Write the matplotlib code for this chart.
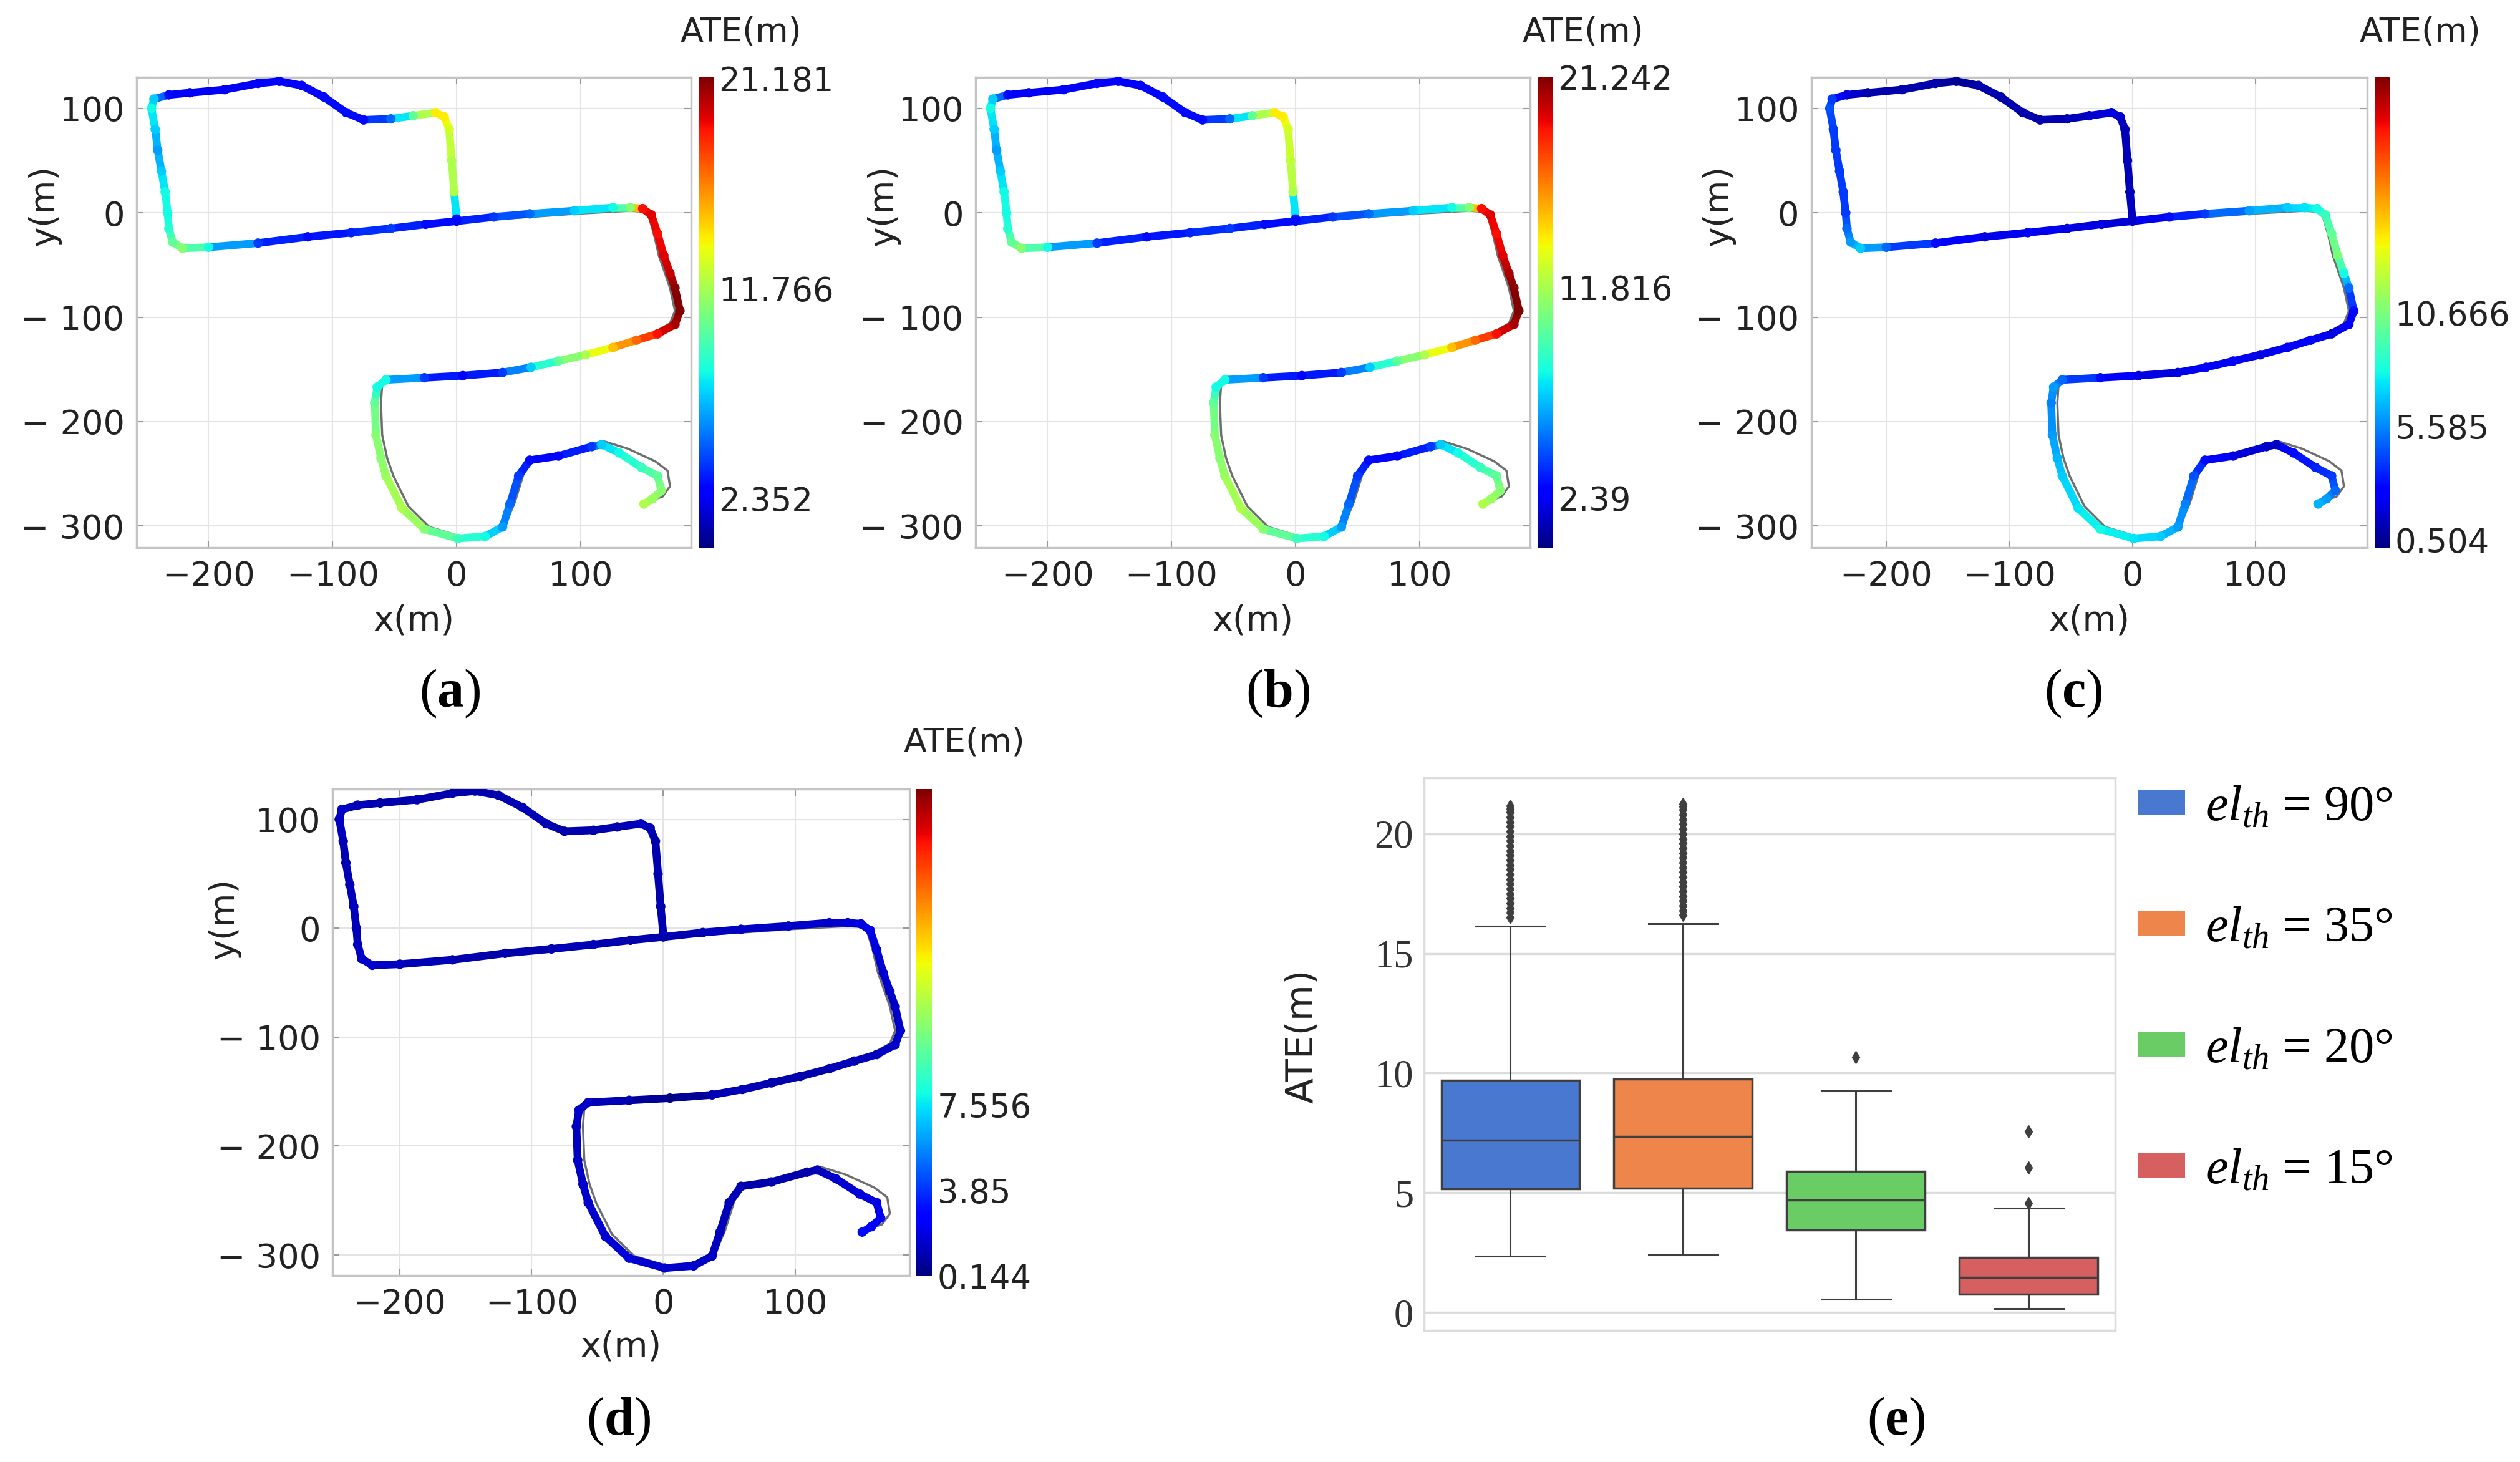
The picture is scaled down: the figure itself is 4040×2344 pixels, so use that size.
import matplotlib
matplotlib.use("Agg")
import matplotlib.pyplot as plt
import numpy as np
from matplotlib.collections import LineCollection
from matplotlib.colors import Normalize
from matplotlib.patches import Patch

# estimated trajectory waypoints (m)
est_x = [0, -2, -4, -6, -10, -17, -35, -53, -75, -89, -107, -125, -143, -160, -187, -215,
         -232, -244, -246, -243, -241, -238, -235, -233, -232, -229, -221, -200, -160, -120,
         -85, -53, -25, 0, 30, 59, 95, 126, 140, 150, 157, 162, 167, 172, 176, 180, 176, 162,
         145, 126, 104, 82, 60, 37, 5, -26, -57, -64, -66, -65, -61, -57, -44, -26, 1, 23,
         37, 43, 50, 59, 82, 109, 117, 131, 149, 162, 165, 158, 151]
est_y = [-6, 20, 50, 80, 92, 96, 93, 90, 89, 96, 111, 122, 126, 124, 118, 115,
         113, 109, 100, 80, 60, 40, 20, 0, -15, -28, -34, -33, -29, -23,
         -19, -15, -11, -8, -4, -1, 2, 5, 5, 4, -2, -20, -41, -58, -72, -94, -107, -116,
         -122, -129, -136, -142, -148, -153, -156, -158, -160, -167, -182, -213, -235, -252, -283, -303, -312, -310,
         -301, -279, -252, -237, -233, -224, -222, -230, -244, -252, -266, -274, -279]

# ground truth waypoints (m)
gt_x = [0, -2, -4, -6, -10, -17, -35, -53, -75, -89, -107, -125, -143, -160, -187, -215,
        -232, -244, -246, -243, -241, -238, -235, -233, -232, -229, -221, -200, -160, -120,
        -85, -53, -25, 0, 30, 59, 95, 126, 140, 150, 155, 159, 163, 168, 172, 176, 172, 160,
        145, 126, 104, 82, 60, 37, 5, -26, -57, -60, -61, -60, -56, -51, -39, -22, 3, 25,
        40, 47, 54, 63, 85, 110, 119, 138, 160, 170, 172, 166, 158]
gt_y = [-6, 20, 50, 80, 92, 96, 93, 90, 89, 96, 111, 122, 126, 124, 118, 115,
        113, 109, 100, 80, 60, 40, 20, 0, -15, -28, -34, -33, -29, -23,
        -19, -15, -11, -8, -6, -4, -1, 1, 2, 1, -4, -20, -41, -58, -72, -94, -106, -114,
        -121, -128, -135, -141, -147, -152, -155, -157, -158, -165, -182, -213, -235, -252, -281, -301, -310, -307,
        -297, -277, -250, -235, -230, -221, -219, -226, -238, -247, -262, -272, -275]

# ATE along the trajectory for each threshold (m)
ate_90 = [3, 12, 12, 13, 14, 14, 10, 5, 3, 3, 3, 2.6, 2.5, 2.5, 2.352, 2.4,
          3, 7, 8, 7, 6, 7, 8, 8, 8.5, 10, 11, 8, 4, 3,
          3.5, 4, 3, 3, 4, 5, 7, 8, 11, 19, 19.5, 19, 19.5, 20, 21, 21.181, 20.5, 19,
          17, 15, 12, 10, 7, 4, 2.6, 4, 8, 8, 10, 11, 11, 11.5, 12, 11, 9, 8,
          6, 5, 4, 3, 2.8, 4, 7, 8, 9, 10, 11, 11.5, 12]
ate_35 = [3, 12, 12.5, 13, 14, 14, 10, 5, 3, 3, 3, 2.6, 2.5, 2.5, 2.39, 2.4,
          3, 7, 8, 7, 6, 7, 8, 8, 8.5, 10, 11, 8, 4, 3,
          3.5, 4, 3, 3, 4, 5, 7, 8, 11, 19, 19.5, 19, 19.5, 20.5, 21, 21.242, 20.5, 19,
          17, 15, 12, 10, 7, 4, 2.6, 4, 8, 8, 10, 11, 11, 11.5, 12, 11, 9, 8,
          6, 5, 4, 3, 2.8, 4, 7, 8, 9, 10, 11, 11.5, 12]
ate_20 = [1.5, 1.2, 1.2, 1.2, 1.5, 2, 1.5, 1.2, 1.0, 1.0, 1.0, 1.0, 0.504, 1.0, 1.0, 1.0,
          2, 4, 4.5, 4, 4, 4, 4, 4, 5, 6, 7, 5, 3, 2,
          2.5, 2, 2, 1.5, 3, 4, 6, 7, 7.5, 8, 9, 10, 10.666, 8, 5, 3, 2.5, 2,
          2.5, 2.5, 2, 2.5, 2.5, 2, 2, 3, 5, 6, 5.5, 6, 6.5, 7, 7.5, 8, 7.5, 7,
          6, 5.5, 4.5, 3, 2, 1.5, 1.5, 3, 3.5, 4, 5, 6, 6.5]
ate_15 = [1.2, 1.0, 1.0, 1.0, 1.2, 1.3, 1.1, 1.0, 1.0, 1.1, 1.2, 1.0, 1.0, 1.0, 1.1, 1.0,
          1.2, 1.5, 1.4, 1.2, 1.1, 1.2, 1.3, 1.2, 1.3, 1.5, 1.6, 1.3, 1.1, 1.0,
          1.1, 1.2, 1.0, 1.0, 1.2, 1.4, 1.5, 1.6, 1.8, 2.0, 2.2, 1.8, 1.6, 1.5, 1.4, 1.6, 1.5, 1.3,
          1.2, 1.1, 1.0, 1.0, 1.2, 1.1, 0.144, 1.0, 1.4, 1.5, 1.3, 1.4, 1.5, 1.6, 1.7, 1.8, 1.6, 1.5,
          1.4, 1.3, 1.2, 1.1, 1.0, 1.0, 1.2, 1.6, 1.8, 2.0, 2.4, 2.8, 3.0]

# colorbar ticks shown for each run (min, mid, max)
cbar_ticks = {
    "a": [2.352, 11.766, 21.181],
    "b": [2.39, 11.816, 21.242],
    "c": [0.504, 5.585, 10.666],
    "d": [0.144, 3.85, 7.556],
}
ate_min, ate_max = 0.144, 21.242

xticks = [-200, -100, 0, 100]
xtick_labels = ["\u2212200", "\u2212100", "0", "100"]
yticks = [100, 0, -100, -200, -300]
ytick_labels = ["100", "0", "\u2212 100", "\u2212 200", "\u2212 300"]

# box plot summary of ATE per elevation threshold
box_labels = ["90\u00b0", "35\u00b0", "20\u00b0", "15\u00b0"]
box_colors = ["#4878d0", "#ee854a", "#6acc64", "#d65f5f"]
whislo = [2.35, 2.4, 0.55, 0.15]
q1 = [5.15, 5.2, 3.45, 0.75]
med = [7.2, 7.35, 4.7, 1.45]
q3 = [9.7, 9.75, 5.9, 2.3]
whishi = [16.15, 16.25, 9.25, 4.35]
fliers = [
    [16.5, 16.7, 16.9, 17.1, 17.3, 17.5, 17.7, 17.9, 18.1, 18.3, 18.5, 18.7, 18.9, 19.1,
     19.3, 19.5, 19.7, 19.9, 20.1, 20.3, 20.5, 20.7, 20.9, 21.05, 21.18],
    [16.6, 16.8, 17.0, 17.2, 17.4, 17.6, 17.8, 18.0, 18.2, 18.4, 18.6, 18.8, 19.0, 19.2,
     19.4, 19.6, 19.8, 20.0, 20.2, 20.4, 20.6, 20.8, 21.0, 21.15, 21.24],
    [10.67],
    [4.55, 6.05, 7.56],
]

plt.rcParams['mathtext.fontset'] = 'custom'
plt.rcParams['mathtext.rm'] = 'Liberation Serif'
plt.rcParams['mathtext.it'] = 'Liberation Serif:italic'
plt.rcParams['mathtext.bf'] = 'Liberation Serif:bold'

fig = plt.figure(figsize=(40.4, 23.44), dpi=100)
W, H = 1568.0, 910.0

def box(l, t, r, b):
    return [l / W, 1 - b / H, (r - l) / W, (b - t) / H]

cmap = plt.get_cmap('jet')
norm = Normalize(ate_min, ate_max)

def traj_panel(rect, crect, ate, ticks, xlim, ylim, title_xy, ylab_xy, xlab_y):
    ax = fig.add_axes(box(*rect))
    ax.plot(gt_x, gt_y, color='#6e6e6e', lw=2.5, zorder=2)
    pts = np.column_stack([est_x, est_y])
    segs = np.stack([pts[:-1], pts[1:]], axis=1)
    vals = np.array(ate)
    lc = LineCollection(segs, cmap=cmap, norm=norm, linewidths=9, zorder=3,
                        capstyle='round', joinstyle='round')
    lc.set_array((vals[:-1] + vals[1:]) / 2)
    ax.add_collection(lc)
    ax.scatter(est_x, est_y, c=ate, cmap=cmap, norm=norm, s=120, edgecolors='none', zorder=4)
    ax.set_xlim(*xlim)
    ax.set_ylim(*ylim)
    ax.set_xticks(xticks)
    ax.set_xticklabels(xtick_labels)
    ax.set_yticks(yticks)
    ax.set_yticklabels(ytick_labels)
    ax.grid(color='#e4e4e4', lw=1.5)
    ax.tick_params(direction='in', length=8, width=1.5, color='#9a9a9a',
                   top=True, right=True, labelsize=39, labelcolor='#222222', pad=14)
    for s in ax.spines.values():
        s.set_color('#c4c4c4')
        s.set_linewidth(2.5)
    ax.set_xlabel('x(m)', fontsize=40, color='#222222')
    ax.set_ylabel('y(m)', fontsize=40, color='#222222')
    ax.xaxis.set_label_coords(0.5, xlab_y)
    ax.yaxis.set_label_coords(*ylab_xy)

    cax = fig.add_axes(box(*crect))
    cb = fig.colorbar(plt.cm.ScalarMappable(norm=norm, cmap=cmap), cax=cax, ticks=ticks)
    cb.outline.set_visible(False)
    cax.set_yticklabels([str(t) for t in ticks])
    cax.tick_params(length=0, labelsize=38, labelcolor='#222222', pad=6)
    fig.text(title_xy[0] / W, 1 - title_xy[1] / H, 'ATE(m)', fontsize=39,
             color='#222222', ha='center', va='center')
    return ax

xl_top = (-258, 189)
yl_top = (-321, 130)
traj_panel((85, 48, 430, 341), (435, 48, 444, 341), ate_90, cbar_ticks["a"], xl_top, yl_top,
           (461, 20), (-0.136, 0.727), -0.12)
traj_panel((607, 48, 952, 341), (957, 48, 966, 341), ate_35, cbar_ticks["b"], xl_top, yl_top,
           (985, 20), (-0.136, 0.727), -0.12)
traj_panel((1127, 48, 1473, 341), (1478, 48, 1487, 341), ate_20, cbar_ticks["c"], (-261, 191), yl_top,
           (1506, 20), (-0.136, 0.727), -0.12)
traj_panel((207, 491, 566, 794), (570, 491, 580, 794), ate_15, cbar_ticks["d"], (-251, 187), (-319, 128),
           (600, 462), (-0.159, 0.733), -0.112)

# (e) box plot
ax = fig.add_axes(box(886, 484, 1316, 828))
stats = []
for i in range(4):
    stats.append(dict(whislo=whislo[i], q1=q1[i], med=med[i], q3=q3[i],
                      whishi=whishi[i], fliers=fliers[i]))
bp = ax.bxp(stats, positions=range(4), widths=0.8, patch_artist=True,
            boxprops=dict(edgecolor='#3f3f3f', linewidth=2.5),
            whiskerprops=dict(color='#3f3f3f', linewidth=2.2),
            capprops=dict(color='#3f3f3f', linewidth=2.2),
            medianprops=dict(color='#3f3f3f', linewidth=2.5),
            flierprops=dict(marker='d', markerfacecolor='#3f3f3f', markeredgecolor='#3f3f3f',
                            markersize=10))
for patch, c in zip(bp['boxes'], box_colors):
    patch.set_facecolor(c)
ax.set_xlim(-0.5, 3.5)
ax.set_ylim(-0.75, 22.35)
ax.set_yticks([0, 5, 10, 15, 20])
ax.set_xticks([])
ax.yaxis.grid(True, color='#dcdcdc', lw=2.5)
ax.set_axisbelow(True)
ax.tick_params(axis='y', length=0, labelsize=45, labelcolor='#333333', pad=12)
for lab in ax.get_yticklabels():
    lab.set_family('Liberation Serif')
for s in ax.spines.values():
    s.set_color('#dcdcdc')
    s.set_linewidth(2.5)
ax.set_ylabel('ATE(m)', fontsize=43, color='#222222')
ax.yaxis.set_label_coords(-0.149, 0.532)

handles = [Patch(facecolor=c, edgecolor='none') for c in box_colors]
labels = [r'$el_{th}$ = ' + b for b in box_labels]
fig.legend(handles, labels, loc='upper left', bbox_to_anchor=(1330 / W, 1 - 489 / H),
           frameon=False, prop={'family': 'Liberation Serif', 'size': 58},
           borderpad=0, borderaxespad=0,
           handlelength=0.95, handleheight=0.38, handletextpad=0.4, labelspacing=1.5)

# panel letters
for letter, (px, py) in zip('abcde', [(280, 432), (795, 432), (1290, 432), (385, 885), (1180, 885)]):
    fig.text(px / W, 1 - py / H, '(' + r'$\mathbf{' + letter + '}$' + ')',
             fontsize=62, family='Liberation Serif', ha='center', va='center')

fig.savefig('out.png', dpi=100)
